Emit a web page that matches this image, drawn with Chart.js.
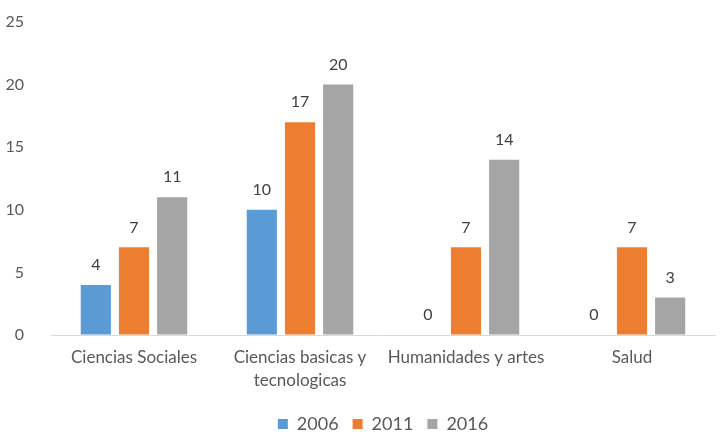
<!DOCTYPE html>
<html><head><meta charset="utf-8">
<script src="https://cdn.jsdelivr.net/npm/chart.js@4/dist/chart.umd.min.js"></script>
<style>html,body{margin:0;padding:0;background:#fff}#w{width:724px;height:432px}</style>
</head><body><div id="w"><canvas id="c"></canvas></div>
<script>
const categories = [["Ciencias Sociales"], ["Ciencias basicas y", "tecnologicas"], ["Humanidades y artes"], ["Salud"]];
const years = ["2006", "2011", "2016"];
const v2006 = [4, 10, 0, 0];
const v2011 = [7, 17, 7, 7];
const v2016 = [11, 20, 14, 3];
const yTicks = [0, 5, 10, 15, 20, 25];
const colors = ["#5B9BD5", "#ED7D31", "#A5A5A5"];
const FONT = 'Lato, "Liberation Sans", sans-serif';

const labelPlugin = {
  id: 'vals',
  afterDatasetsDraw(chart) {
    const ctx = chart.ctx;
    ctx.save();
    ctx.font = '16px ' + FONT;
    ctx.fillStyle = '#404040';
    ctx.textAlign = 'center';
    ctx.textBaseline = 'bottom';
    chart.data.datasets.forEach((ds, i) => {
      chart.getDatasetMeta(i).data.forEach((el, j) => {
        ctx.fillText(String(ds.data[j]), el.x, el.y - 12);
      });
    });
    ctx.restore();
  }
};

new Chart(document.getElementById('c'), {
  type: 'bar',
  data: {
    labels: categories,
    datasets: [
      { label: years[0], data: v2006, backgroundColor: colors[0] },
      { label: years[1], data: v2011, backgroundColor: colors[1] },
      { label: years[2], data: v2016, backgroundColor: colors[2] }
    ]
  },
  options: {
    responsive: true,
    maintainAspectRatio: false,
    animation: false,
    layout: { padding: { top: 22, right: 9, left: 0, bottom: -11 } },
    datasets: { bar: { categoryPercentage: 0.69, barPercentage: 0.79 } },
    scales: {
      y: {
        min: 0, max: 25,
        afterBuildTicks: (s) => { s.ticks = yTicks.map(v => ({ value: v })); },
        afterFit: (s) => { s.width = 51; },
        grid: { display: true, drawOnChartArea: false, drawTicks: true, tickLength: 21, color: 'rgba(0,0,0,0)', tickColor: 'rgba(0,0,0,0)' },
        border: { display: false },
        ticks: { color: '#595959', font: { size: 16, family: FONT }, padding: 6 }
      },
      x: {
        afterFit: (s) => { s.height = 66; },
        grid: { display: false, drawTicks: false },
        border: { display: true, color: '#D9D9D9', width: 1 },
        ticks: { color: '#595959', font: { size: 17, family: FONT, lineHeight: 1.35 }, padding: 11, maxRotation: 0 }
      }
    },
    plugins: {
      legend: {
        position: 'bottom',
        fullSize: false,
        labels: {
          color: '#595959',
          font: { size: 18, family: FONT },
          boxWidth: 10, boxHeight: 10, padding: 14
        }
      },
      tooltip: { enabled: false }
    }
  },
  plugins: [labelPlugin]
});
</script></body></html>
